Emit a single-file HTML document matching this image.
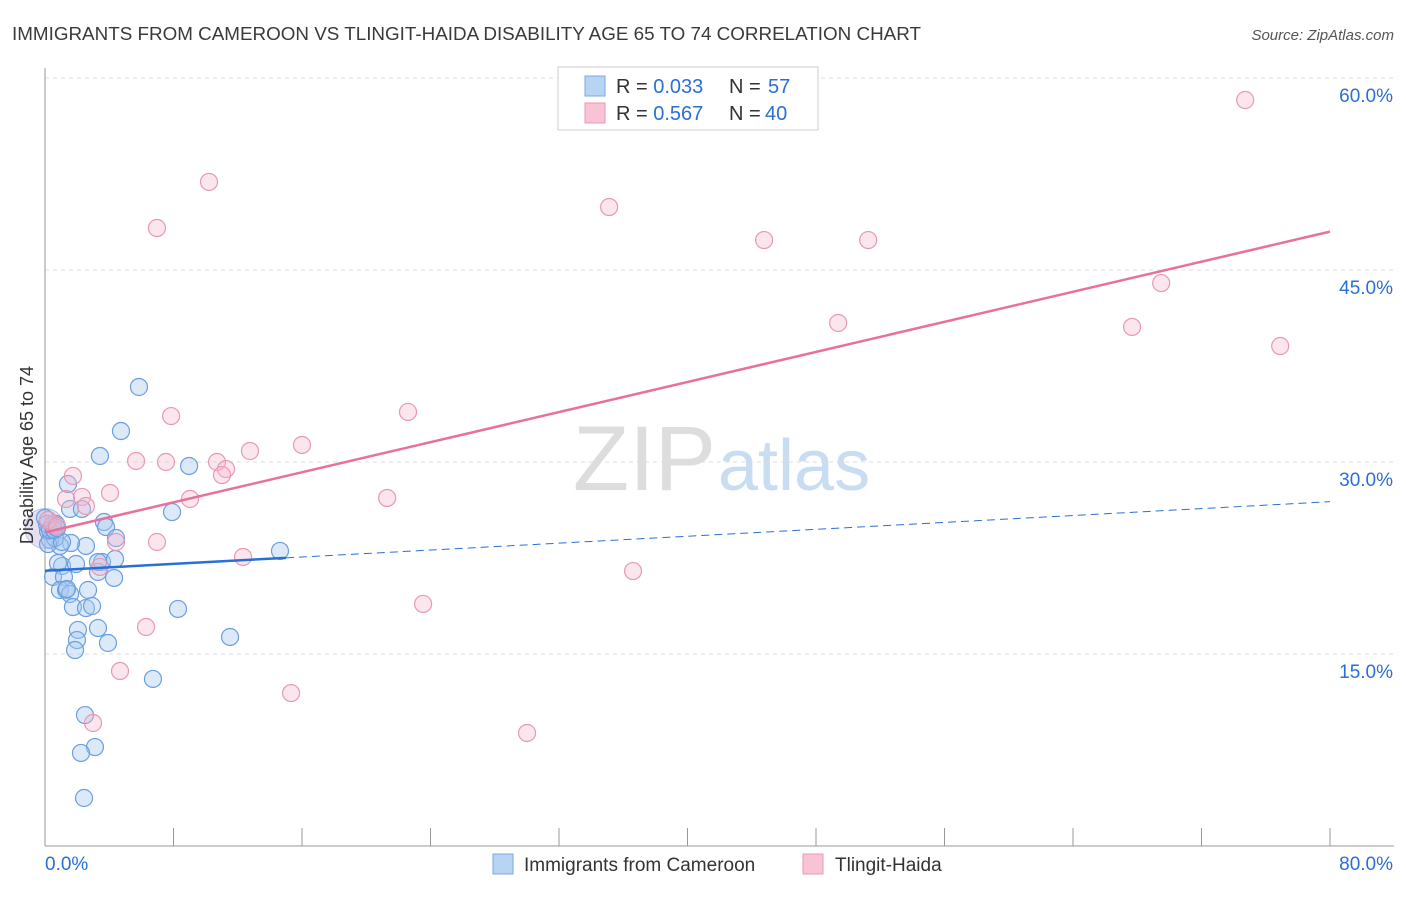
<!DOCTYPE html>
<html><head><meta charset="utf-8"><style>
body{margin:0;background:#fff;font-family:"Liberation Sans",sans-serif}
svg text{font-family:"Liberation Sans",sans-serif}
</style></head><body>
<svg id="chart" width="1406" height="892" viewBox="0 0 1406 892">
<text x="12" y="40" font-size="18" fill="#3a3a3a" textLength="909" lengthAdjust="spacingAndGlyphs">IMMIGRANTS FROM CAMEROON VS TLINGIT-HAIDA DISABILITY AGE 65 TO 74 CORRELATION CHART</text>
<text x="1394" y="40" font-size="15" fill="#555" font-style="italic" text-anchor="end">Source: ZipAtlas.com</text>
<text x="716" y="490" font-size="92" fill="#ddd" text-anchor="end" font-family="Liberation Serif">ZIP</text>
<text x="718" y="490" font-size="72" fill="#c8dcf2">atlas</text>
<g id="grid"></g><g id="axes"></g><g id="marks"></g><g id="lines"></g>
<text transform="translate(33,455) rotate(-90)" font-size="18" fill="#333" text-anchor="middle">Disability Age 65 to 74</text>
<g>
<rect x="558" y="67" width="260" height="63" fill="#fff" stroke="#ccc"/>
<rect x="585" y="76" width="20" height="20" fill="#b8d4f5" stroke="#7aa8e0"/>
<rect x="585" y="103" width="20" height="20" fill="#f8c4d4" stroke="#e898b4"/>
<text x="616" y="93" font-size="20" fill="#333">R = <tspan fill="#2a6fd6">0.033</tspan></text>
<text x="729" y="93" font-size="20" fill="#333">N = <tspan x="768" fill="#2a6fd6">57</tspan></text>
<text x="616" y="120" font-size="20" fill="#333">R = <tspan fill="#2a6fd6">0.567</tspan></text>
<text x="729" y="120" font-size="20" fill="#333">N = <tspan x="765" fill="#2a6fd6">40</tspan></text>
</g>
<g>
<rect x="493" y="854" width="20" height="20" fill="#b8d4f5" stroke="#7aa8e0"/>
<text x="524" y="871" font-size="19" fill="#333">Immigrants from Cameroon</text>
<rect x="803" y="854" width="20" height="20" fill="#f8c4d4" stroke="#e898b4"/>
<text x="835" y="871" font-size="19" fill="#333">Tlingit-Haida</text>
</g>
</svg>
<script>
const xTicks=[0,8,16,24,32,40,48,56,64,72,80];
const yTicks=[15,30,45,60];
const yTickLabels=["15.0%","30.0%","45.0%","60.0%"];
const blueX=[5.85,4.73,3.42,8.97,1.43,7.91,1.56,2.30,3.67,3.80,4.42,3.55,4.36,2.55,1.62,0.93,0.31,0.19,0.44,0.68,0.62,1.06,1.93,3.30,4.30,0.50,1.18,0.93,1.31,1.56,1.74,2.55,2.93,8.28,3.30,2.05,1.99,1.87,3.92,11.52,6.72,2.49,3.11,2.24,2.43,14.63,0.81,0.19,0.12,0.31,1.06,2.68,0.56,1.37,0.75,3.30,0.0];
const blueY=[35.86,32.42,30.47,29.69,28.28,26.09,26.33,26.33,25.31,24.92,24.06,22.19,22.42,23.44,23.67,23.44,23.91,24.61,25.0,25.16,24.06,21.88,22.03,21.41,20.94,21.02,21.02,20.0,20.0,19.69,18.67,18.59,18.75,18.52,17.03,16.88,16.09,15.31,15.86,16.33,13.05,10.23,7.73,7.27,3.75,23.05,22.11,23.59,25.16,24.69,23.75,20.0,24.69,20.08,24.84,22.19,25.63];
const pinkX=[74.72,10.21,35.12,6.97,44.77,51.25,69.49,49.38,67.68,76.90,7.85,22.60,16.00,12.76,5.67,7.53,10.71,11.27,11.02,1.74,4.05,21.30,9.03,2.30,1.31,2.55,0.50,0.19,4.42,6.97,12.33,36.61,3.42,23.54,6.29,4.67,15.32,2.99,30.01,0.75];
const pinkY=[58.28,51.88,49.92,48.28,47.34,47.34,43.98,40.86,40.55,39.06,33.59,33.91,31.33,30.86,30.08,30.0,30.0,29.45,28.98,28.91,27.58,27.19,27.11,27.27,27.11,26.56,25.16,25.47,23.75,23.75,22.58,21.48,21.80,18.91,17.11,13.67,11.95,9.61,8.83,25.0];
const pinkTrend=[24.5,48.0];
const blueTrend=[21.5,26.9];
const blueSolidEnd=15;
const X=v=>45+v*1285/80, Y=v=>846-v*12.8;
const NS="http://www.w3.org/2000/svg";
function mk(t,a,p){const e=document.createElementNS(NS,t);for(const k in a)e.setAttribute(k,a[k]);p.appendChild(e);return e;}
const grid=document.getElementById('grid'),axes=document.getElementById('axes'),marks=document.getElementById('marks'),lines=document.getElementById('lines');
yTicks.forEach((v,i)=>{
 const g=mk('line',{x1:45,x2:1394,y1:Y(v),y2:Y(v),stroke:'#ddd','stroke-dasharray':'4,4'},grid);
 
 
 const t=mk('text',{x:1393,y:Y(v)+24,'font-size':19,fill:'#2a6fd6','text-anchor':'end'},axes);
 t.textContent=yTickLabels[i];
 
 
});
const ya=mk('line',{x1:45,x2:45,y1:68,y2:846,stroke:'#999'},axes);


const xa=mk('line',{x1:45,x2:1394,y1:846,y2:846,stroke:'#999'},axes);


xTicks.forEach(v=>{const l=mk('line',{x1:X(v),x2:X(v),y1:828,y2:846,stroke:'#999'},axes);
 
 });
[[0,"0.0%","start",45],[80,"80.0%","end",1393]].forEach(d=>{const t=mk('text',{x:d[3],y:870,'font-size':19,fill:'#2a6fd6','text-anchor':d[2]},axes);t.textContent=d[1];
 
 });
const big=mk('circle',{cx:X(0),cy:Y(24.8),r:20,fill:'rgba(150,130,200,0.25)',stroke:'rgba(120,150,220,0.5)'},marks);


blueX.forEach((x,i)=>{const c=mk('circle',{cx:X(x),cy:Y(blueY[i]),r:8.5,fill:'rgba(168,200,240,0.4)',stroke:'#6a9fe0','stroke-width':1.2},marks);
 
 });
pinkX.forEach((x,i)=>{const c=mk('circle',{cx:X(x),cy:Y(pinkY[i]),r:8.5,fill:'rgba(245,184,204,0.35)',stroke:'#e898b4','stroke-width':1.2},marks);
 
 });
const bAt=v=>blueTrend[0]+(blueTrend[1]-blueTrend[0])*v/80;
const pl=mk('line',{x1:X(0),y1:Y(pinkTrend[0]),x2:X(80),y2:Y(pinkTrend[1]),stroke:'#e8709a','stroke-width':2.5},lines);


const bs=mk('line',{x1:X(0),y1:Y(bAt(0)),x2:X(blueSolidEnd),y2:Y(bAt(blueSolidEnd)),stroke:'#2a6fd6','stroke-width':2.5},lines);


const bd=mk('line',{x1:X(blueSolidEnd),y1:Y(bAt(blueSolidEnd)),x2:X(80),y2:Y(bAt(80)),stroke:'#2a6fd6','stroke-width':1,'stroke-dasharray':'8,5'},lines);


</script>
</body></html>
